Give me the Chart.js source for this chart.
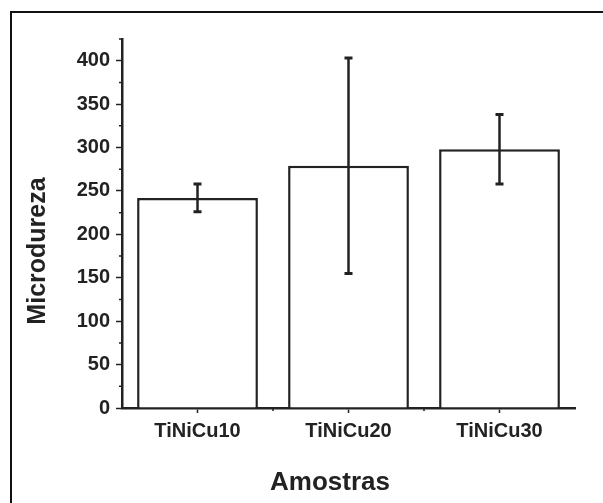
<!DOCTYPE html>
<html>
<head>
<meta charset="utf-8">
<script src="https://cdn.jsdelivr.net/npm/chart.js@4"></script>
<style>
  html, body { margin: 0; padding: 0; background: #fff; }
  #wrap { position: relative; width: 603px; height: 503px; overflow: hidden; }
  #frame { position: absolute; left: 10px; top: 11px; width: 700px; height: 600px;
           border-left: 2px solid #111; border-top: 2px solid #111; }
  canvas { position: absolute; left: 0; top: 0; }
</style>
</head>
<body>
<div id="wrap">
  <div id="frame"></div>
  <canvas id="chart" width="603" height="503"></canvas>
</div>
<script>
const samples = ['TiNiCu10', 'TiNiCu20', 'TiNiCu30'];
const hardness = [242, 279, 298];
const hardnessErr = [16, 124, 40];
const yMax = 425;
const yStep = 25;

const ink = '#222';
const font = 'Liberation Sans, Arial, sans-serif';

// error bars, minor ticks and axis titles
const extras = {
    id: 'extras',
    afterDatasetsDraw(chart) {
        const ctx = chart.ctx;
        const x = chart.scales.x;
        const y = chart.scales.y;
        const bars = chart.getDatasetMeta(0).data;

        ctx.save();
        ctx.strokeStyle = ink;
        bars.forEach((bar, i) => {
            const top = y.getPixelForValue(hardness[i] + hardnessErr[i]);
            const bottom = y.getPixelForValue(hardness[i] - hardnessErr[i]);
            ctx.lineWidth = 2.5;
            ctx.beginPath();
            ctx.moveTo(bar.x, top);
            ctx.lineTo(bar.x, bottom);
            ctx.stroke();
            ctx.lineWidth = 3;
            ctx.beginPath();
            ctx.moveTo(bar.x - 4, top);
            ctx.lineTo(bar.x + 4, top);
            ctx.moveTo(bar.x - 4, bottom);
            ctx.lineTo(bar.x + 4, bottom);
            ctx.stroke();
        });

        // minor ticks on y (odd multiples of 25)
        ctx.lineWidth = 1.5;
        ctx.beginPath();
        for (let v = yStep; v <= yMax; v += 2 * yStep) {
            const py = y.getPixelForValue(v);
            ctx.moveTo(x.left - 3, py);
            ctx.lineTo(x.left, py);
        }
        // minor ticks on x, between categories
        for (let i = 0; i < samples.length - 1; i++) {
            const px = (x.getPixelForValue(i) + x.getPixelForValue(i + 1)) / 2;
            ctx.moveTo(px, y.bottom);
            ctx.lineTo(px, y.bottom + 3);
        }
        ctx.stroke();
        ctx.restore();
    },
    afterDraw(chart) {
        const ctx = chart.ctx;
        const area = chart.chartArea;
        ctx.save();
        ctx.fillStyle = ink;
        ctx.textAlign = 'center';
        ctx.textBaseline = 'middle';

        ctx.font = 'bold 26px ' + font;
        ctx.fillText('Amostras', area.left + 208, 483);

        ctx.translate(38, area.top + 212);
        ctx.rotate(-Math.PI / 2);
        ctx.font = 'bold 25px ' + font;
        ctx.fillText('Microdureza', 0, 0);
        ctx.restore();
    }
};

new Chart(document.getElementById('chart'), {
    type: 'bar',
    data: {
        labels: samples,
        datasets: [{
            data: hardness,
            backgroundColor: '#fff',
            borderColor: ink,
            borderWidth: 2.5,
            borderSkipped: 'bottom',
            categoryPercentage: 0.8,
            barPercentage: 1
        }]
    },
    options: {
        responsive: false,
        animation: false,
        events: [],
        layout: { padding: { top: 39, right: 28, left: 0, bottom: 0 } },
        plugins: { legend: { display: false }, tooltip: { enabled: false } },
        scales: {
            x: {
                afterFit: s => { s.height = 95; },
                grid: {
                    offset: false,
                    drawOnChartArea: false,
                    tickLength: 5,
                    tickWidth: 1.5,
                    tickColor: ink
                },
                border: { color: ink, width: 2.5 },
                ticks: {
                    color: ink,
                    padding: 6,
                    maxRotation: 0,
                    font: { family: font, size: 20, weight: 'bold' }
                }
            },
            y: {
                min: 0,
                max: yMax,
                afterFit: s => { s.width = 122; },
                grid: {
                    drawOnChartArea: false,
                    tickLength: 6,
                    tickWidth: 1.5,
                    tickColor: ctx => (ctx.tick && ctx.tick.value % 50 === 0) ? ink : 'rgba(0,0,0,0)'
                },
                border: { color: ink, width: 2.5 },
                ticks: {
                    stepSize: yStep,
                    color: ink,
                    padding: 6,
                    font: { family: font, size: 20, weight: 'bold' },
                    callback: v => (v % 50 === 0 ? v : '')
                }
            }
        }
    },
    plugins: [extras]
});
</script>
</body>
</html>
